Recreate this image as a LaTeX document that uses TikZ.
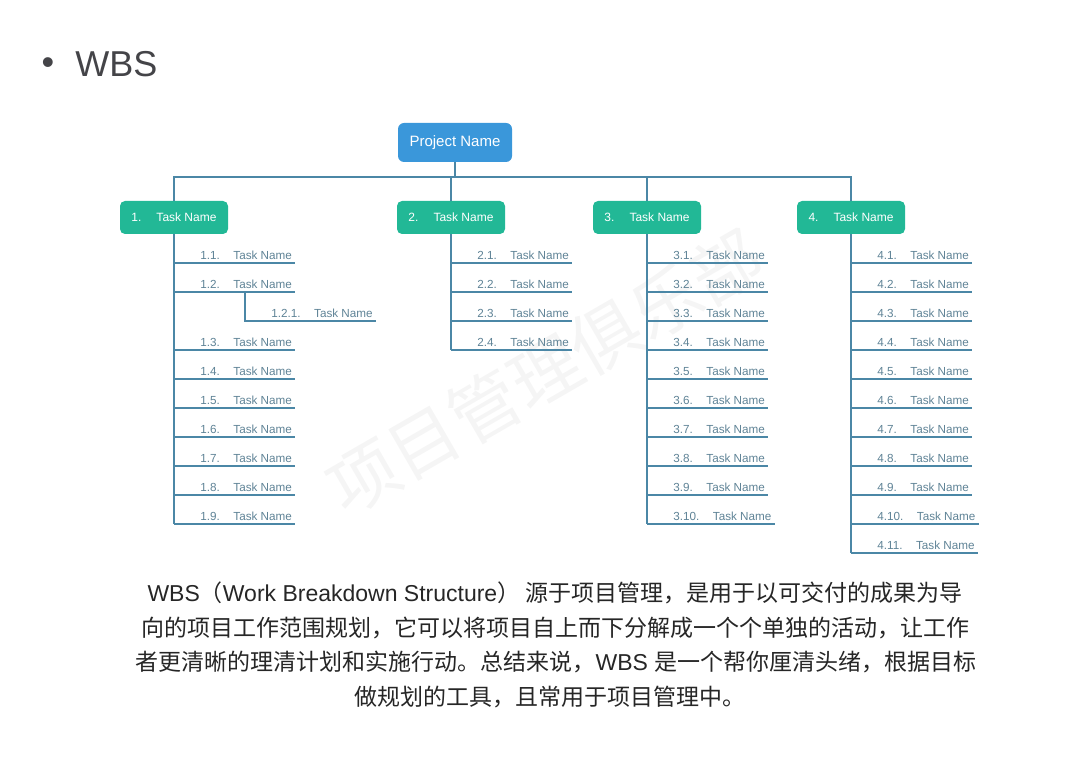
\documentclass[tikz,border=0pt]{standalone}
\usepackage{fontspec}
\setmainfont{Liberation Sans}
\newfontfamily\cjk{Noto Sans CJK SC}
\usetikzlibrary{positioning}
\definecolor{projblue}{HTML}{3A97DA}
\definecolor{taskgreen}{HTML}{22B896}
\definecolor{wbsline}{HTML}{4B87A6}
\definecolor{itemtext}{HTML}{5F8396}
\definecolor{titlegray}{HTML}{444448}
\begin{document}
\begin{tikzpicture}[x=0.5pt, y=-0.5pt,
    every node/.style = {inner sep=2pt},
    proj/.style = {fill=projblue, text=white, rounded corners=3pt,
        minimum width=57pt, minimum height=19.5pt, font=\fontsize{7.5}{9}\selectfont},
    task/.style = {fill=taskgreen, text=white, rounded corners=2.5pt,
        minimum width=54pt, minimum height=16.5pt, font=\fontsize{6}{7}\selectfont},
    item/.style = {text=itemtext, anchor=south west, inner xsep=1.5pt, inner ysep=1.5pt,
        font=\fontsize{5.85}{7}\selectfont},
    link/.style = {draw=wbsline, line width=0.55pt},
    para/.style = {text=black!85, inner sep=0pt, font=\fontsize{11.5}{13}\selectfont}]
\useasboundingbox (0,0) rectangle (1080,764);

% watermark
\node[rotate=30, text=black!4, font=\cjk\fontsize{35}{40}\selectfont] (mark) at (545,372) {项目管理俱乐部};

% title
\node[text=titlegray, font=\fontsize{18}{20}\selectfont, inner sep=0pt] (dot) at (48,66) {•};
\node[text=titlegray, font=\fontsize{18}{20}\selectfont, inner sep=0pt, anchor=west] (title) at (75,64) {WBS};

% top levels
\node[proj] (proj) at (455,142.5) {Project Name};
\node[task] (task1) at (174,217.5) {1.\hspace{7.5pt}Task Name};
\node[task] (task2) at (451,217.5) {2.\hspace{7.5pt}Task Name};
\node[task] (task3) at (647,217.5) {3.\hspace{7.5pt}Task Name};
\node[task] (task4) at (851,217.5) {4.\hspace{7.5pt}Task Name};

\coordinate (bus) at (455,177);
\draw[link] (proj) -- (bus);
\draw[link] (task1) |- (bus) -| (task4);
\draw[link] (task2) -- (task2 |- bus);
\draw[link] (task3) -- (task3 |- bus);

% branch 1
\foreach \n/\r in {1/1,2/2,3/4,4/5,5/6,6/7,7/8,8/9,9/10} {
  \coordinate (b1-\n) at (174,{263+29*(\r-1)});
  \node[item] (t1-\n) at (197,{263+29*(\r-1)}) {1.\n.\hspace{6.75pt}Task Name};
  \draw[link] (b1-\n) -- (t1-\n.south east);
}
\draw[link] (task1) -- (b1-9);
\coordinate (b121) at (245,292);
\node[item] (t121) at (268,321) {1.2.1.\hspace{6.75pt}Task Name};
\draw[link] (b121) |- (t121.south east);

% branch 2
\foreach \n in {1,...,4} {
  \coordinate (b2-\n) at (451,{263+29*(\n-1)});
  \node[item] (t2-\n) at (474,{263+29*(\n-1)}) {2.\n.\hspace{6.75pt}Task Name};
  \draw[link] (b2-\n) -- (t2-\n.south east);
}
\draw[link] (task2) -- (b2-4);

% branch 3
\foreach \n in {1,...,10} {
  \coordinate (b3-\n) at (647,{263+29*(\n-1)});
  \node[item] (t3-\n) at (670,{263+29*(\n-1)}) {3.\n.\hspace{6.75pt}Task Name};
  \draw[link] (b3-\n) -- (t3-\n.south east);
}
\draw[link] (task3) -- (b3-10);

% branch 4
\foreach \n in {1,...,11} {
  \coordinate (b4-\n) at (851,{263+29*(\n-1)});
  \node[item] (t4-\n) at (874,{263+29*(\n-1)}) {4.\n.\hspace{6.75pt}Task Name};
  \draw[link] (b4-\n) -- (t4-\n.south east);
}
\draw[link] (task4) -- (b4-11);

% description
\node[para] (line1) at (555,593) {WBS{\cjk（}Work Breakdown Structure{\cjk ） 源于项目管理，是用于以可交付的成果为导}};
\node[para] (line2) at (555,628) {\cjk 向的项目工作范围规划，它可以将项目自上而下分解成一个个单独的活动，让工作};
\node[para] (line3) at (556,662) {{\cjk 者更清晰的理清计划和实施行动。总结来说，}WBS {\cjk 是一个帮你厘清头绪，根据目标}};
\node[para] (line4) at (550,697) {\cjk 做规划的工具，且常用于项目管理中。};
\end{tikzpicture}
\end{document}
